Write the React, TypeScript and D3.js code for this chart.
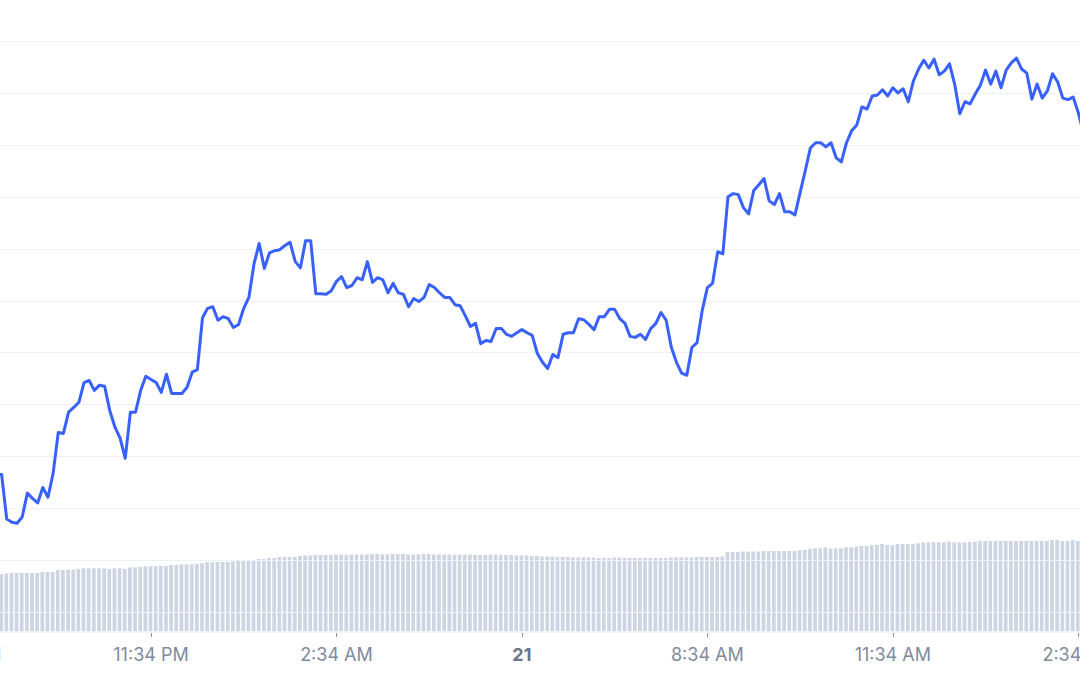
import * as d3 from "d3";

// 5-minute samples starting 20 Jan 21:04 (local)
const START = new Date(2024, 0, 20, 21, 4);
const STEP_MIN = 5;

const price = [
  26.5, 26.5, 17.9, 17.3, 17.1, 18.3, 22.9, 21.9, 21.0, 24.0, 22.1, 26.7, 34.6, 34.4, 38.5, 39.4,
  40.4, 44.2, 44.6, 42.7, 43.7, 43.5, 38.8, 35.6, 33.5, 29.6, 38.5, 38.5, 42.7, 45.4, 44.8, 44.2,
  42.3, 45.8, 42.1, 42.1, 42.1, 43.3, 46.2, 46.7, 56.7, 58.5, 58.8, 56.2, 56.9, 56.5, 54.8, 55.4,
  58.5, 60.6, 67.1, 71.0, 66.2, 69.2, 69.6, 69.8, 70.6, 71.2, 67.5, 66.3, 71.5, 71.5, 61.3, 61.3,
  61.2, 61.9, 63.7, 64.6, 62.5, 62.9, 64.4, 64.0, 67.5, 63.5, 64.4, 64.0, 61.5, 63.3, 61.5, 61.2,
  58.8, 60.4, 59.8, 60.6, 63.1, 62.5, 61.5, 60.6, 60.6, 59.2, 59.0, 57.1, 55.0, 55.6, 51.7, 52.3,
  52.1, 54.6, 54.6, 53.5, 53.1, 53.8, 54.4, 53.8, 53.3, 49.8, 48.1, 46.9, 49.6, 49.0, 53.5, 53.8,
  53.8, 56.5, 56.3, 55.4, 54.4, 56.9, 56.9, 58.3, 58.3, 56.5, 55.6, 53.1, 52.9, 53.5, 52.5, 54.6,
  55.6, 57.7, 56.2, 51.0, 48.1, 46.0, 45.6, 51.0, 51.9, 58.1, 62.5, 63.3, 69.4, 69.0, 80.0, 80.6,
  80.4, 77.9, 76.7, 81.2, 82.3, 83.5, 79.2, 78.5, 80.6, 77.1, 77.1, 76.5, 80.8, 85.0, 89.4, 90.4,
  90.4, 89.6, 90.4, 87.5, 86.7, 90.4, 92.7, 93.8, 97.3, 96.9, 99.4, 99.6, 100.6, 99.4, 101.0, 100.0,
  100.8, 98.3, 102.3, 104.6, 106.3, 104.8, 106.5, 103.5, 104.2, 105.6, 101.7, 96.0, 98.3, 97.9, 99.8, 101.5,
  104.4, 101.7, 104.2, 101.0, 104.4, 105.8, 106.7, 104.6, 103.8, 98.8, 101.7, 99.0, 100.4, 103.7, 102.1, 99.0,
  98.7, 99.2, 96.2, 92.3,
];

const volume = [
  57, 57, 57.5, 58, 58, 58, 58, 58, 58, 59, 59, 59, 61, 61, 61.5, 61.5,
  62, 62.7, 62.7, 62.7, 62.7, 62.7, 62, 62.7, 62.7, 62, 63.5, 63.7, 64, 64.7, 64.7, 65,
  65, 65, 66, 66, 66.7, 66.7, 66.7, 67, 67.7, 69, 69, 69, 69, 69, 69.5, 70,
  70, 71, 71, 72, 72, 73, 73, 74, 74, 74, 74, 75, 75.5, 75.5, 76, 76,
  76, 76, 76.5, 76.5, 76, 76.5, 76.5, 76.5, 76.5, 77, 77, 76.5, 76.5, 77, 77, 77,
  76.5, 76.5, 76.5, 77, 77, 76.5, 76.5, 76.5, 76.5, 76, 76.5, 76.5, 76.5, 76, 76, 76,
  76.5, 76.5, 76, 76, 76, 75.5, 75.5, 75.5, 75, 75, 74.5, 74.5, 74.5, 74, 74, 74,
  73.5, 73.5, 73.5, 73.5, 73.5, 73, 73, 73, 73.5, 73.5, 73, 73, 73, 73, 73, 73,
  73, 73, 73, 73.5, 73.5, 73.5, 73.5, 73.5, 74, 74, 74, 74, 74, 74.5, 79, 79,
  79, 79.5, 79.5, 79.5, 79.5, 80, 80, 80, 80, 80, 80, 80, 81, 81, 82, 82.7,
  82.7, 83.7, 82.7, 82.7, 82.7, 83.7, 83.7, 84.3, 85, 85, 86, 86, 87, 86, 86, 87,
  87, 87, 87, 87.7, 88.7, 88.7, 88.7, 88.7, 88.7, 89.3, 88.7, 88.7, 88.7, 89.3, 89.3, 90,
  90, 90, 90, 90, 90, 90, 90, 90, 90, 90, 90, 90, 90, 91, 91, 90,
  90, 91, 90, 90,
];

const gridValues = [0, 10, 20, 30, 40, 50, 60, 70, 80, 90, 100, 110];
const tickLabels = ["8:34 PM", "11:34 PM", "2:34 AM", "21", "8:34 AM", "11:34 AM", "2:34 PM"];
const TICK_START = new Date(2024, 0, 20, 20, 34);

const W = 1080;
const H = 675;

export default function App() {
  const times = price.map((_, i) => new Date(START.getTime() + i * STEP_MIN * 60000));

  const x = d3
    .scaleTime()
    .domain([new Date(2024, 0, 20, 23, 34), new Date(2024, 0, 21, 14, 34)])
    .range([151, 1078.3]);
  const y = d3.scaleLinear().domain([0, 110]).range([612, 41]);
  const yVol = d3.scaleLinear().domain([0, 100]).range([631, 531]);

  const tickTimes = tickLabels.map((_, k) => d3.timeHour.offset(TICK_START, 3 * k));

  const line = d3
    .line<number>()
    .x((_, i) => x(times[i]))
    .y((d) => y(d));

  const barW = 3.7;

  return (
    <div style={{ position: "absolute", left: 0, top: 0, width: W, height: H, background: "#fff" }}>
      <svg width={W} height={H} style={{ display: "block" }}>
        {/* volume bars */}
        <g fill="#cdd4e2">
          {volume.map((v, i) => (
            <rect
              key={i}
              x={x(times[i]) - barW / 2 - 0.5}
              y={yVol(v)}
              width={barW}
              height={yVol(0) - yVol(v)}
            />
          ))}
        </g>

        {/* grid */}
        <g stroke="#eff2f5" strokeWidth={1}>
          {gridValues.map((g) => (
            <line key={g} x1={0} x2={W} y1={Math.round(y(g)) + 0.5} y2={Math.round(y(g)) + 0.5} />
          ))}
        </g>

        {/* x axis */}
        <line x1={0} x2={W} y1={632} y2={632} stroke="#e6e9ef" strokeWidth={1} />
        <g>
          {tickTimes.map((t, k) => {
            const tx = Math.round(x(t)) + 0.5;
            const bold = tickLabels[k] === "21";
            return (
              <g key={k}>
                <line x1={tx} x2={tx} y1={633} y2={637} stroke="#8a92a3" strokeWidth={1} />
                <text
                  x={x(t)}
                  y={661}
                  textAnchor="middle"
                  fontFamily="Inter, 'Noto Sans', sans-serif"
                  fontSize={18}
                  fontWeight={bold ? 700 : 400}
                  fill={bold ? "#6b7488" : "#808a9d"}
                >
                  {tickLabels[k]}
                </text>
              </g>
            );
          })}
        </g>

        {/* price line */}
        <path
          d={line(price) ?? ""}
          fill="none"
          stroke="#3861fb"
          strokeWidth={3}
          strokeLinejoin="round"
          strokeLinecap="round"
        />
      </svg>
    </div>
  );
}
